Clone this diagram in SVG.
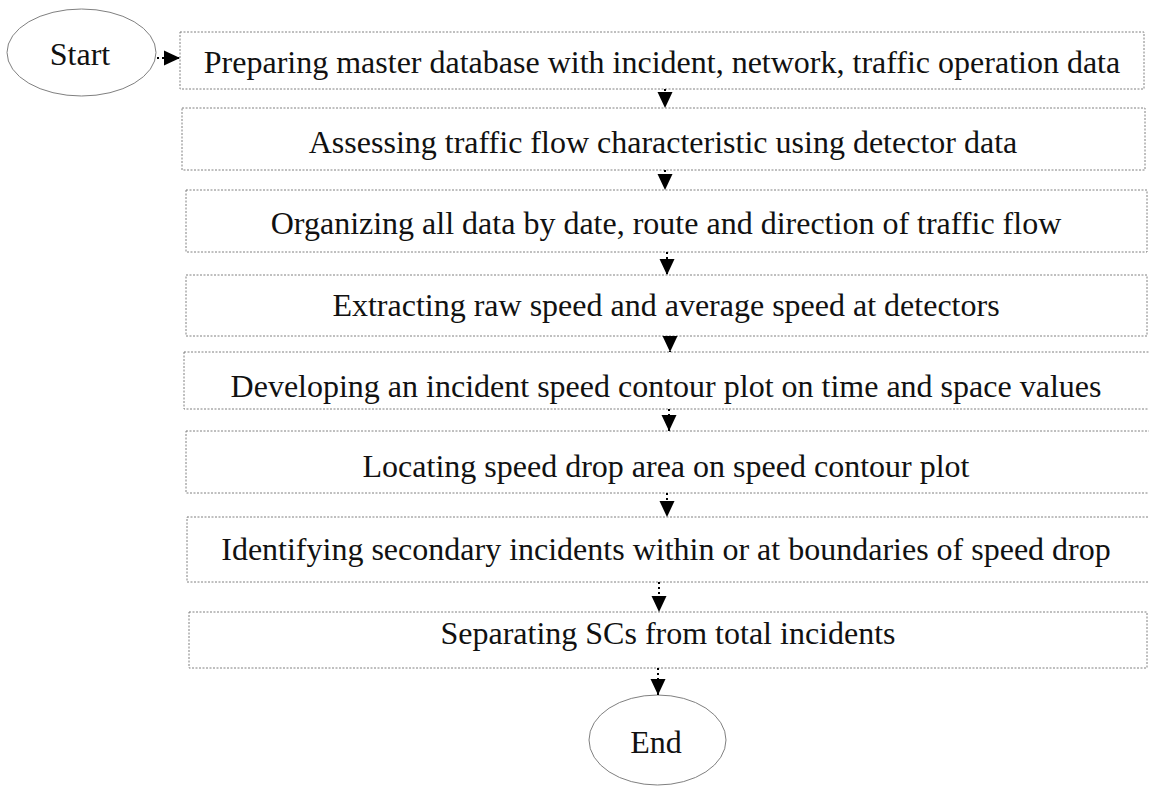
<svg xmlns="http://www.w3.org/2000/svg" width="1149" height="787" viewBox="0 0 1149 787">
  <style>
    .box { fill: #ffffff; stroke: #808080; stroke-width: 1; stroke-dasharray: 2 1.5; }
    .term { fill: #ffffff; stroke: #808080; stroke-width: 1; }
    .lbl { font-family: "Liberation Serif", "Times New Roman", serif; font-size: 32px; fill: #111111; text-anchor: middle; }
    .link { stroke: #000000; stroke-width: 2; stroke-dasharray: 2 3; fill: none; }
  </style>
  <defs>
    <marker id="head" markerUnits="userSpaceOnUse" viewBox="0 0 16 15" markerWidth="16" markerHeight="15" refX="16" refY="7.5" orient="auto" overflow="visible">
      <path d="M0,0 L16,7.5 L0,15 z" fill="#000000"/>
    </marker>
  </defs>
  <rect width="1149" height="787" fill="#ffffff"/>

  <g id="start">
    <ellipse class="term" cx="81.5" cy="52.5" rx="74.5" ry="43.5"/>
    <text class="lbl" x="80" y="65">Start</text>
  </g>

  <g id="step1">
    <rect class="box" x="180" y="32" width="964" height="57"/>
    <text class="lbl" x="662" y="73">Preparing master database with incident, network, traffic operation data</text>
  </g>
  <g id="step2">
    <rect class="box" x="182" y="108" width="963" height="62"/>
    <text class="lbl" x="663" y="153">Assessing traffic flow characteristic using detector data</text>
  </g>
  <g id="step3">
    <rect class="box" x="186" y="190" width="961" height="62"/>
    <text class="lbl" x="666" y="234">Organizing all data by date, route and direction of traffic flow</text>
  </g>
  <g id="step4">
    <rect class="box" x="186" y="275" width="961" height="61"/>
    <text class="lbl" x="666" y="316">Extracting raw speed and average speed at detectors</text>
  </g>
  <g id="step5">
    <rect class="box" x="184" y="352" width="966" height="57"/>
    <text class="lbl" x="666" y="397">Developing an incident speed contour plot on time and space values</text>
  </g>
  <g id="step6">
    <rect class="box" x="186" y="431" width="966" height="62"/>
    <text class="lbl" x="666" y="477">Locating speed drop area on speed contour plot</text>
  </g>
  <g id="step7">
    <rect class="box" x="187" y="517" width="966" height="65"/>
    <text class="lbl" x="666" y="560">Identifying secondary incidents within or at boundaries of speed drop</text>
  </g>
  <g id="step8">
    <rect class="box" x="189" y="612" width="958" height="56"/>
    <text class="lbl" x="668" y="644">Separating SCs from total incidents</text>
  </g>

  <g id="end">
    <ellipse class="term" cx="657.5" cy="740" rx="68.5" ry="45"/>
    <text class="lbl" x="656" y="753">End</text>
  </g>

  <g id="connectors">
    <line class="link" x1="157" y1="58" x2="180" y2="58" marker-end="url(#head)"/>
    <line class="link" x1="665" y1="89" x2="665" y2="108" marker-end="url(#head)"/>
    <line class="link" x1="665" y1="170" x2="665" y2="190" marker-end="url(#head)"/>
    <line class="link" x1="667" y1="252" x2="667" y2="275" marker-end="url(#head)"/>
    <line class="link" x1="670" y1="336" x2="670" y2="352" marker-end="url(#head)"/>
    <line class="link" x1="669" y1="409" x2="669" y2="431" marker-end="url(#head)"/>
    <line class="link" x1="667" y1="493" x2="667" y2="517" marker-end="url(#head)"/>
    <line class="link" x1="659" y1="582" x2="659" y2="612" marker-end="url(#head)"/>
    <line class="link" x1="658" y1="668" x2="658" y2="695" marker-end="url(#head)"/>
  </g>
</svg>
